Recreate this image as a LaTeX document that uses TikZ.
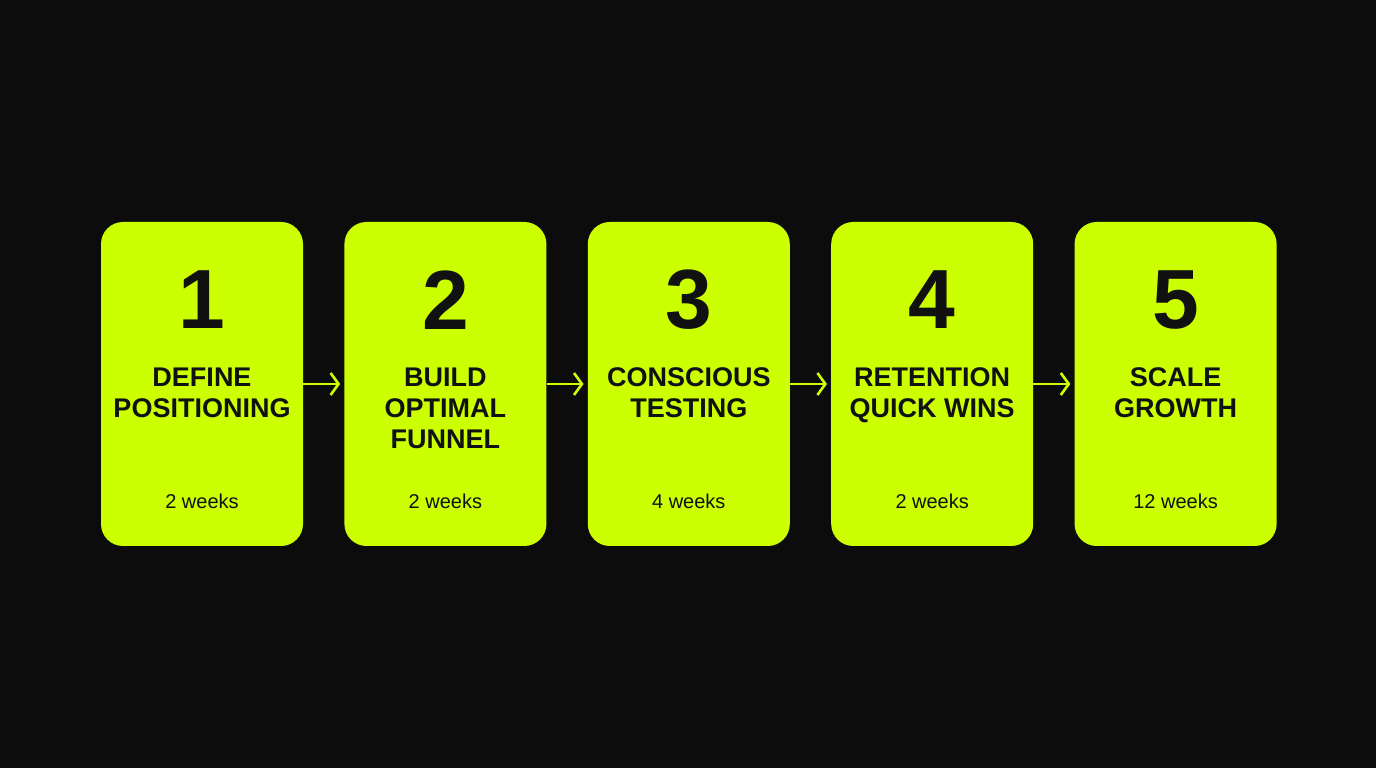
\documentclass[tikz,border=0pt]{standalone}
\usepackage{fontspec}
\setmainfont{Liberation Sans}
\usepackage{xcolor}
\usetikzlibrary{arrows.meta,positioning,calc}

\definecolor{lime}{HTML}{CCFF00}
\definecolor{bgdark}{HTML}{0C0C0C}
\definecolor{inkdark}{HTML}{111111}

\begin{document}
\begin{tikzpicture}[x=1pt, y=1pt, node distance=41pt,
    card/.style={rectangle, fill=lime, minimum width=202pt, minimum height=324pt, rounded corners=22pt, inner sep=0pt},
    num/.style={text=inkdark, font=\fontsize{84}{84}\selectfont\bfseries, inner sep=0pt},
    title/.style={text=inkdark, font=\fontsize{27}{31}\selectfont\bfseries, align=center, inner sep=0pt, anchor=north},
    dur/.style={text=inkdark, font=\fontsize{20}{24}\selectfont, inner sep=0pt},
    link/.style={-{Straight Barb[length=8pt, width=22pt, line width=2.6pt]}, draw=lime, line width=2.6pt, shorten >=4pt}]

    % Background
    \fill[bgdark] (0,0) rectangle (1376,768);
    \useasboundingbox (0,0) rectangle (1376,768);

    % Cards
    \node[card] (c1) at (202,384) {};
    \node[card, right=of c1] (c2) {};
    \node[card, right=of c2] (c3) {};
    \node[card, right=of c3] (c4) {};
    \node[card, right=of c4] (c5) {};

    % Step numbers
    \node[num] (n1) at ($(c1.north)+(0,-78)$) {1};
    \node[num] (n2) at ($(c2.north)+(0,-78)$) {2};
    \node[num] (n3) at ($(c3.north)+(0,-78)$) {3};
    \node[num] (n4) at ($(c4.north)+(0,-78)$) {4};
    \node[num] (n5) at ($(c5.north)+(0,-78)$) {5};

    % Step titles
    \node[title] (t1) at ($(c1.north)+(0,-146)$) {DEFINE\\POSITIONING};
    \node[title] (t2) at ($(c2.north)+(0,-146)$) {BUILD\\OPTIMAL\\FUNNEL};
    \node[title] (t3) at ($(c3.north)+(0,-146)$) {CONSCIOUS\\TESTING};
    \node[title] (t4) at ($(c4.north)+(0,-146)$) {RETENTION\\QUICK WINS};
    \node[title] (t5) at ($(c5.north)+(0,-146)$) {SCALE\\GROWTH};

    % Durations
    \node[dur] (d1) at ($(c1.south)+(0,45)$) {2 weeks};
    \node[dur] (d2) at ($(c2.south)+(0,45)$) {2 weeks};
    \node[dur] (d3) at ($(c3.south)+(0,45)$) {4 weeks};
    \node[dur] (d4) at ($(c4.south)+(0,45)$) {2 weeks};
    \node[dur] (d5) at ($(c5.south)+(0,45)$) {12 weeks};

    % Arrows
    \draw[link] (c1.east) -- (c2.west);
    \draw[link] (c2.east) -- (c3.west);
    \draw[link] (c3.east) -- (c4.west);
    \draw[link] (c4.east) -- (c5.west);

\end{tikzpicture}
\end{document}
